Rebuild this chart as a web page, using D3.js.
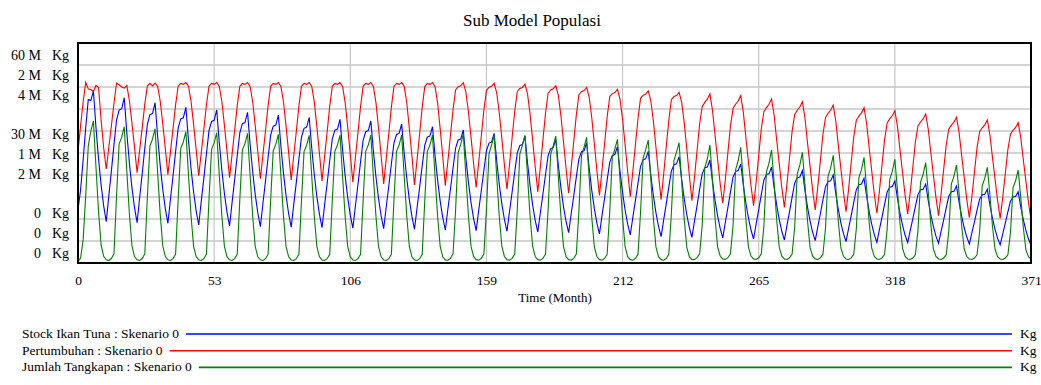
<!DOCTYPE html>
<html>
<head>
<meta charset="utf-8">
<script src="https://cdn.jsdelivr.net/npm/d3@7"></script>
<style>
  body { margin: 0; background: #fff; }
  svg { display: block; font-family: 'Liberation Serif', 'Times New Roman', serif; }
</style>
</head>
<body>
<div class="sim-chart"></div>
<script>
// monthly values, millions of Kg (month 0..371)
const stockIkanTuna = [
  14.45, 19.9, 28.1, 36.8, 44.6, 44.3, 46.91, 36.93, 28.37, 21.24, 15.54, 11.26,
  18.36, 25.13, 32.23, 38.99, 41.70, 42.04, 45.08, 35.53, 27.35, 20.54, 15.08, 10.99,
  17.86, 24.41, 31.28, 37.83, 40.45, 40.77, 43.72, 34.51, 26.62, 20.04, 14.78, 10.83,
  17.47, 23.80, 30.44, 36.77, 39.30, 39.61, 42.46, 33.47, 25.77, 19.35, 14.21, 10.36,
  16.95, 23.22, 29.81, 36.08, 38.59, 38.91, 41.73, 32.87, 25.28, 18.95, 13.89, 10.09,
  16.60, 22.80, 29.32, 35.52, 38.00, 38.31, 41.10, 32.36, 24.88, 18.64, 13.64, 9.90,
  16.30, 22.39, 28.79, 34.88, 37.31, 37.62, 40.36, 31.79, 24.45, 18.33, 13.43, 9.76,
  16.06, 22.05, 28.35, 34.34, 36.74, 37.04, 39.74, 31.31, 24.08, 18.06, 13.24, 9.63,
  15.84, 21.75, 27.96, 33.87, 36.23, 36.53, 39.19, 30.87, 23.75, 17.81, 13.05, 9.49,
  15.63, 21.48, 27.62, 33.47, 35.81, 36.10, 38.73, 30.50, 23.45, 17.58, 12.88, 9.35,
  15.35, 21.06, 27.06, 32.77, 35.05, 35.34, 37.91, 29.87, 22.98, 17.23, 12.64, 9.19,
  15.07, 20.66, 26.54, 32.13, 34.37, 34.65, 37.17, 29.28, 22.52, 16.89, 12.38, 9.00,
  14.73, 20.18, 25.91, 31.36, 33.54, 33.82, 36.27, 28.58, 21.99, 16.50, 12.11, 8.81,
  14.39, 19.70, 25.28, 30.59, 32.71, 32.98, 35.37, 27.89, 21.48, 16.13, 11.86, 8.65,
  14.11, 19.31, 24.76, 29.96, 32.04, 32.30, 34.64, 27.31, 21.02, 15.78, 11.59, 8.45,
  13.76, 18.82, 24.13, 29.19, 31.21, 31.46, 33.74, 26.61, 20.49, 15.39, 11.32, 8.26,
  13.42, 18.33, 23.48, 28.39, 30.36, 30.60, 32.81, 25.84, 19.86, 14.88, 10.90, 7.91,
  12.91, 17.67, 22.67, 27.43, 29.34, 29.58, 31.72, 24.98, 19.20, 14.38, 10.53, 7.64,
  12.43, 17.00, 21.79, 26.35, 28.18, 28.41, 30.46, 23.94, 18.35, 13.69, 9.96, 7.17,
  11.75, 16.12, 20.70, 25.06, 26.81, 27.03, 28.99, 22.84, 17.56, 13.16, 9.65, 7.01,
  11.44, 15.65, 20.08, 24.30, 25.98, 26.19, 28.09, 22.15, 17.06, 12.81, 9.42, 6.87,
  11.10, 15.12, 19.35, 23.38, 24.99, 25.19, 27.00, 21.27, 16.37, 12.28, 9.00, 6.55,
  10.66, 14.57, 18.67, 22.58, 24.15, 24.34, 26.10, 20.55, 15.79, 11.82, 8.65, 6.27,
  10.24, 14.02, 17.99, 21.77, 23.28, 23.47, 25.17, 19.82, 15.24, 11.43, 8.37, 6.08,
  9.84, 13.43, 17.19, 20.77, 22.21, 22.39, 24.00, 18.91, 14.54, 10.90, 7.99, 5.81,
  9.44, 12.90, 16.53, 19.99, 21.37, 21.54, 23.10, 18.21, 14.03, 10.54, 7.74, 5.65,
  9.16, 12.50, 16.01, 19.35, 20.69, 20.86, 22.36, 17.65, 13.61, 10.25, 7.56, 5.54,
  8.90, 12.10, 15.47, 18.67, 19.95, 20.11, 21.55, 17.02, 13.14, 9.90, 7.31, 5.37,
  8.65, 11.78, 15.06, 18.19, 19.44, 19.59, 21.00, 16.57, 12.77, 9.61, 7.08, 5.18,
  8.31, 11.30, 14.43, 17.41, 18.61, 18.76, 20.10, 15.85, 12.20, 9.16, 6.73, 4.91,
  7.96, 10.87, 13.92, 16.83, 18.00, 18.14, 19.45, 15.36, 11.86, 8.94, 6.60, 4.85
];

const pertumbuhan = [
  1.012, 1.245, 1.464, 1.641, 1.582, 1.577, 1.559, 1.614, 1.595, 1.300, 1.045, 0.855,
  1.052, 1.248, 1.452, 1.635, 1.620, 1.600, 1.590, 1.615, 1.477, 1.272, 1.051, 0.821,
  1.026, 1.231, 1.444, 1.608, 1.633, 1.610, 1.635, 1.607, 1.473, 1.264, 1.038, 0.803,
  1.013, 1.222, 1.440, 1.607, 1.633, 1.624, 1.641, 1.607, 1.472, 1.260, 1.031, 0.794,
  1.006, 1.218, 1.438, 1.607, 1.633, 1.624, 1.641, 1.606, 1.468, 1.251, 1.017, 0.775,
  0.992, 1.208, 1.433, 1.606, 1.632, 1.624, 1.641, 1.606, 1.466, 1.247, 1.011, 0.766,
  0.985, 1.204, 1.431, 1.606, 1.632, 1.624, 1.641, 1.606, 1.464, 1.242, 1.003, 0.755,
  0.977, 1.198, 1.428, 1.606, 1.632, 1.624, 1.641, 1.605, 1.462, 1.238, 0.996, 0.745,
  0.969, 1.193, 1.426, 1.606, 1.632, 1.624, 1.641, 1.605, 1.460, 1.233, 0.988, 0.734,
  0.961, 1.188, 1.423, 1.606, 1.632, 1.624, 1.641, 1.604, 1.456, 1.226, 0.976, 0.718,
  0.949, 1.180, 1.419, 1.605, 1.632, 1.624, 1.641, 1.604, 1.455, 1.222, 0.970, 0.709,
  0.942, 1.175, 1.417, 1.604, 1.632, 1.624, 1.641, 1.603, 1.453, 1.219, 0.966, 0.703,
  0.928, 1.162, 1.396, 1.573, 1.602, 1.611, 1.639, 1.553, 1.373, 1.144, 0.907, 0.688,
  0.915, 1.152, 1.388, 1.568, 1.596, 1.606, 1.634, 1.547, 1.364, 1.133, 0.892, 0.670,
  0.899, 1.138, 1.377, 1.558, 1.587, 1.596, 1.625, 1.537, 1.351, 1.115, 0.870, 0.645,
  0.877, 1.119, 1.361, 1.544, 1.573, 1.583, 1.612, 1.524, 1.338, 1.103, 0.859, 0.634,
  0.865, 1.106, 1.347, 1.530, 1.558, 1.568, 1.597, 1.509, 1.322, 1.086, 0.841, 0.615,
  0.846, 1.087, 1.328, 1.512, 1.540, 1.550, 1.579, 1.491, 1.306, 1.071, 0.827, 0.603,
  0.834, 1.074, 1.314, 1.497, 1.526, 1.535, 1.564, 1.475, 1.287, 1.050, 0.802, 0.575,
  0.809, 1.054, 1.298, 1.484, 1.513, 1.523, 1.552, 1.463, 1.276, 1.039, 0.793, 0.566,
  0.780, 1.023, 1.266, 1.421, 1.460, 1.489, 1.538, 1.389, 1.160, 0.941, 0.722, 0.543,
  0.758, 1.003, 1.247, 1.404, 1.443, 1.472, 1.521, 1.371, 1.141, 0.921, 0.701, 0.521,
  0.734, 0.977, 1.219, 1.375, 1.413, 1.443, 1.491, 1.343, 1.117, 0.900, 0.683, 0.506,
  0.717, 0.957, 1.197, 1.351, 1.389, 1.418, 1.466, 1.318, 1.092, 0.876, 0.659, 0.482,
  0.692, 0.930, 1.169, 1.322, 1.360, 1.388, 1.436, 1.291, 1.067, 0.854, 0.641, 0.466,
  0.674, 0.911, 1.147, 1.298, 1.336, 1.365, 1.412, 1.268, 1.047, 0.836, 0.625, 0.452,
  0.657, 0.891, 1.124, 1.273, 1.310, 1.338, 1.385, 1.244, 1.028, 0.821, 0.614, 0.445,
  0.645, 0.873, 1.100, 1.246, 1.282, 1.310, 1.355, 1.216, 1.004, 0.800, 0.597, 0.430,
  0.627, 0.851, 1.074, 1.218, 1.253, 1.280, 1.325, 1.188, 0.978, 0.777, 0.576, 0.412,
  0.607, 0.829, 1.051, 1.193, 1.229, 1.256, 1.300, 1.166, 0.960, 0.764, 0.567, 0.406,
  0.597, 0.814, 1.032, 1.171, 1.205, 1.232, 1.275, 1.143, 0.941, 0.747, 0.553, 0.395
];

const jumlahTangkapan = [
  0.024, 0.090, 0.420, 1.220, 2.130, 2.400, 2.582, 1.745, 0.933, 0.324, 0.121, 0.058,
  0.045, 0.081, 0.167, 1.213, 2.162, 2.283, 2.478, 1.675, 0.897, 0.313, 0.118, 0.057,
  0.045, 0.081, 0.165, 1.196, 2.130, 2.250, 2.442, 1.651, 0.884, 0.309, 0.117, 0.057,
  0.045, 0.080, 0.162, 1.169, 2.083, 2.200, 2.387, 1.614, 0.865, 0.303, 0.115, 0.057,
  0.045, 0.080, 0.161, 1.161, 2.067, 2.183, 2.369, 1.602, 0.858, 0.301, 0.115, 0.057,
  0.045, 0.080, 0.161, 1.155, 2.057, 2.173, 2.358, 1.595, 0.855, 0.299, 0.114, 0.057,
  0.045, 0.079, 0.160, 1.147, 2.042, 2.156, 2.340, 1.583, 0.848, 0.297, 0.114, 0.056,
  0.045, 0.079, 0.159, 1.138, 2.026, 2.140, 2.322, 1.571, 0.842, 0.295, 0.113, 0.056,
  0.045, 0.079, 0.159, 1.140, 2.030, 2.144, 2.327, 1.574, 0.844, 0.296, 0.113, 0.056,
  0.045, 0.079, 0.159, 1.140, 2.030, 2.144, 2.327, 1.574, 0.844, 0.296, 0.113, 0.056,
  0.045, 0.079, 0.159, 1.140, 2.030, 2.144, 2.327, 1.574, 0.844, 0.296, 0.113, 0.056,
  0.045, 0.079, 0.159, 1.140, 2.030, 2.144, 2.327, 1.574, 0.844, 0.296, 0.113, 0.056,
  0.050, 0.084, 0.165, 0.968, 2.001, 2.161, 2.345, 1.588, 0.853, 0.302, 0.119, 0.061,
  0.050, 0.084, 0.164, 0.961, 1.985, 2.145, 2.327, 1.576, 0.847, 0.300, 0.118, 0.061,
  0.050, 0.084, 0.164, 0.959, 1.981, 2.140, 2.322, 1.572, 0.845, 0.300, 0.118, 0.061,
  0.050, 0.084, 0.163, 0.954, 1.970, 2.128, 2.309, 1.564, 0.841, 0.298, 0.118, 0.061,
  0.050, 0.084, 0.162, 0.944, 1.950, 2.106, 2.285, 1.547, 0.832, 0.296, 0.117, 0.061,
  0.050, 0.083, 0.160, 0.930, 1.919, 2.073, 2.249, 1.523, 0.820, 0.292, 0.116, 0.061,
  0.050, 0.083, 0.159, 0.924, 1.908, 2.061, 2.236, 1.515, 0.815, 0.290, 0.116, 0.061,
  0.050, 0.082, 0.157, 0.905, 1.866, 2.016, 2.187, 1.482, 0.798, 0.285, 0.114, 0.061,
  0.065, 0.096, 0.169, 0.689, 1.729, 1.895, 2.145, 1.521, 0.814, 0.294, 0.127, 0.075,
  0.065, 0.096, 0.167, 0.677, 1.696, 1.859, 2.104, 1.492, 0.799, 0.289, 0.126, 0.075,
  0.065, 0.095, 0.165, 0.662, 1.657, 1.816, 2.055, 1.458, 0.781, 0.284, 0.125, 0.075,
  0.065, 0.094, 0.162, 0.649, 1.623, 1.779, 2.013, 1.429, 0.766, 0.279, 0.123, 0.075,
  0.065, 0.093, 0.160, 0.633, 1.579, 1.731, 1.958, 1.390, 0.746, 0.273, 0.122, 0.074,
  0.065, 0.093, 0.158, 0.622, 1.551, 1.699, 1.922, 1.365, 0.734, 0.269, 0.121, 0.074,
  0.065, 0.092, 0.156, 0.611, 1.521, 1.667, 1.885, 1.339, 0.720, 0.265, 0.120, 0.074,
  0.065, 0.091, 0.153, 0.593, 1.472, 1.613, 1.824, 1.296, 0.698, 0.258, 0.118, 0.074,
  0.065, 0.091, 0.151, 0.580, 1.439, 1.576, 1.782, 1.267, 0.683, 0.254, 0.117, 0.074,
  0.065, 0.090, 0.149, 0.568, 1.405, 1.539, 1.740, 1.238, 0.668, 0.249, 0.115, 0.073,
  0.065, 0.089, 0.146, 0.553, 1.366, 1.496, 1.691, 1.203, 0.650, 0.244, 0.114, 0.073
];

const timeTicks = [0, 53, 106, 159, 212, 265, 318, 371];
const seriesNames = ['Stock Ikan Tuna', 'Pertumbuhan', 'Jumlah Tangkapan'];
const seriesMax = [60, 2, 4];
const topLabels = ['60 M', '2 M', '4 M'];
const midLabels = ['30 M', '1 M', '2 M'];
const bottomLabels = ['0', '0', '0'];

const width = 1041, height = 385;
const margin = { left: 78, right: 10, top: 43, bottom: 122 };
const graphWidth = width - margin.left - margin.right;
const graphHeight = height - margin.top - margin.bottom;
const colors = ['#0000ff', '#ff0000', '#008000'];

const svg = d3.select('.sim-chart')
  .append('svg')
  .attr('width', width)
  .attr('height', height);

svg.append('text')
  .attr('x', 532)
  .attr('y', 26)
  .attr('text-anchor', 'middle')
  .attr('font-size', 17)
  .text('Sub Model Populasi');

const graph = svg.append('g')
  .attr('transform', `translate(${margin.left}, ${margin.top})`);

const x = d3.scaleLinear().domain([0, 371]).range([0, graphWidth]);
const yScales = seriesMax.map(m => d3.scaleLinear().domain([0, m]).range([graphHeight, 0]));
const yGrid = d3.scaleLinear().domain([0, 10]).range([graphHeight, 0]);

// grid
graph.append('g')
  .selectAll('line')
  .data(d3.range(1, 10))
  .join('line')
  .attr('x1', 0).attr('x2', graphWidth)
  .attr('y1', d => yGrid(d)).attr('y2', d => yGrid(d))
  .attr('stroke', '#c6c6c6')
  .attr('stroke-width', 1.4);

graph.append('g')
  .selectAll('line')
  .data(timeTicks.slice(1, -1))
  .join('line')
  .attr('x1', d => x(d)).attr('x2', d => x(d))
  .attr('y1', 0).attr('y2', graphHeight)
  .attr('stroke', '#c6c6c6')
  .attr('stroke-width', 1.2);

// series
const data = [stockIkanTuna, pertumbuhan, jumlahTangkapan];
data.forEach((values, i) => {
  const line = d3.line()
    .x((d, t) => x(t))
    .y(d => yScales[i](d));
  graph.append('path')
    .datum(values)
    .attr('fill', 'none')
    .attr('stroke', colors[i])
    .attr('stroke-width', 1.1)
    .attr('d', line);
});

// frame
graph.append('rect')
  .attr('width', graphWidth)
  .attr('height', graphHeight)
  .attr('fill', 'none')
  .attr('stroke', '#000')
  .attr('stroke-width', 2);

// x axis
const xAxis = d3.axisBottom(x).tickValues(timeTicks).tickSize(0).tickPadding(12);
graph.append('g')
  .attr('transform', `translate(0, ${graphHeight})`)
  .call(xAxis)
  .call(g => g.select('.domain').remove())
  .call(g => g.selectAll('text')
    .attr('font-family', 'Liberation Serif')
    .attr('font-size', 13.5)
    .attr('fill', '#000'));

svg.append('text')
  .attr('x', 555)
  .attr('y', 302)
  .attr('text-anchor', 'middle')
  .attr('font-size', 13)
  .text('Time (Month)');

// stacked y labels (one row per series): top, middle and bottom of the axis
const labelRow = 20;
const yLabels = svg.append('g').attr('font-size', 14);
const yGroups = [
  { labels: topLabels, y0: margin.top + yScales[0](60) + 17 },
  { labels: midLabels, y0: margin.top + yScales[0](30) - labelRow + 6 },
  { labels: bottomLabels, y0: margin.top + yScales[0](0) - 2 * labelRow - 5 }
];
yGroups.forEach(grp => {
  grp.labels.forEach((lab, i) => {
    const yy = grp.y0 + i * labelRow;
    yLabels.append('text')
      .attr('x', 41).attr('y', yy)
      .attr('text-anchor', 'end')
      .text(lab);
    yLabels.append('text')
      .attr('x', 52).attr('y', yy)
      .text('Kg');
  });
});

// legend
const legend = svg.append('g')
  .attr('font-size', 13.5)
  .selectAll('g')
  .data(seriesNames)
  .join('g')
  .attr('transform', (d, i) => `translate(0, ${338 + i * 16.7})`);

legend.append('text')
  .attr('x', 22)
  .text(d => `${d} : Skenario 0`);

legend.append('line')
  .attr('x1', function () { return 22 + this.parentNode.querySelector('text').getComputedTextLength() + 7; })
  .attr('x2', 1012)
  .attr('y1', -4).attr('y2', -4)
  .attr('stroke', (d, i) => colors[i])
  .attr('stroke-width', 1.6);

legend.append('text')
  .attr('x', 1020)
  .text('Kg');
</script>
</body>
</html>
